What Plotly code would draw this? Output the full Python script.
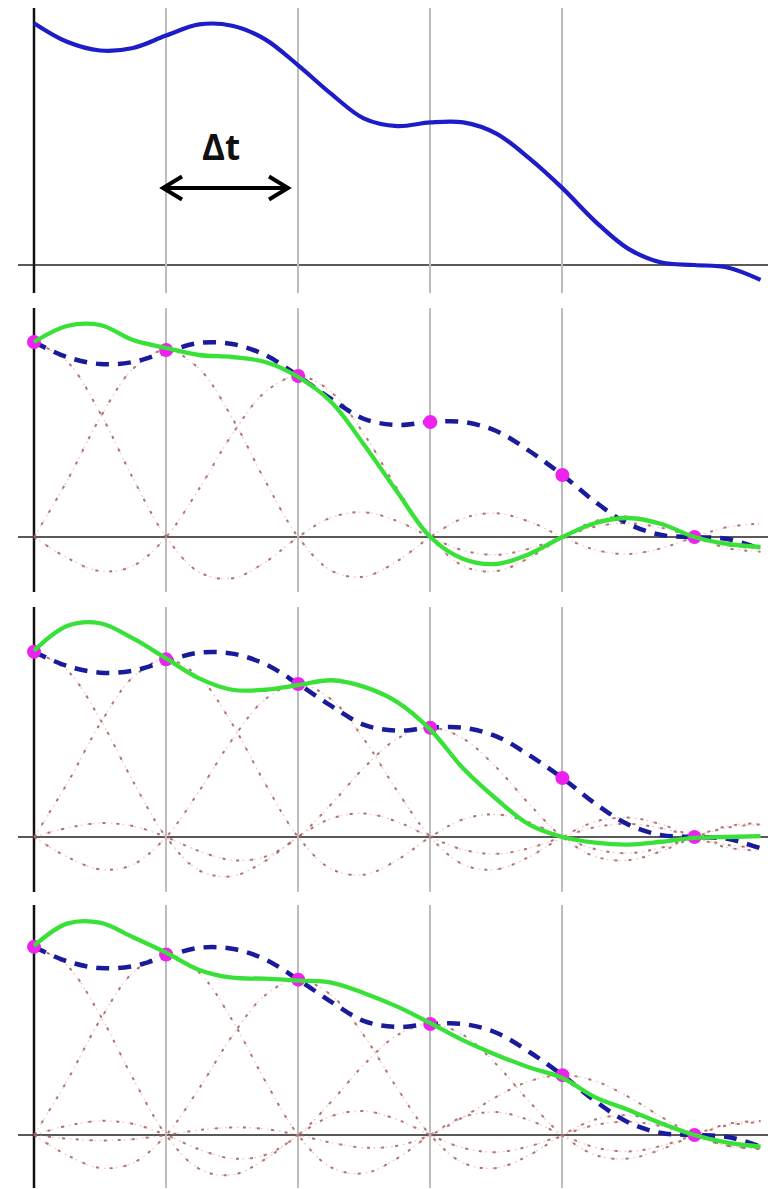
import plotly.graph_objects as go

# ---------------- data ----------------
# time in units of the sampling interval Δt
T = [0, 0.25, 0.5, 0.75, 1, 1.25, 1.5, 1.75, 2, 2.25, 2.5, 2.75,
     3, 3.25, 3.5, 3.75, 4, 4.25, 4.5, 4.75, 5, 5.25, 5.5]

# original (band-limited) signal
signal = [1.95, 1.80, 1.73, 1.75, 1.85, 1.94, 1.93, 1.82, 1.61, 1.38, 1.18, 1.12,
          1.15, 1.15, 1.06, 0.86, 0.62, 0.35, 0.13, 0.02, 0.00, -0.02, -0.12]

# samples taken every Δt
sample_t = [0, 1, 2, 3, 4, 5]
sample_v = [1.95, 1.87, 1.61, 1.15, 0.62, 0.00]

# interpolation kernel profile (value at offsets 0, 0.25, 0.5 ... 5.5 Δt)
kernel = [1.0, 0.90, 0.637, 0.300, 0.0, -0.180, -0.212, -0.129, 0.0, 0.100, 0.127, 0.082,
          0.0, -0.069, -0.091, -0.060, 0.0, 0.053, 0.071, 0.047, 0.0, -0.043, -0.058]

# reconstructions using the first 3, 4 and 5 samples
recon_3 = [1.95, 2.11, 2.12, 1.97, 1.89, 1.82, 1.80, 1.75, 1.60, 1.35, 0.92, 0.45,
           0.00, -0.22, -0.27, -0.17, 0.00, 0.14, 0.19, 0.13, 0.00, -0.07, -0.10]
recon_4 = [1.96, 2.22, 2.25, 2.09, 1.88, 1.67, 1.55, 1.55, 1.60, 1.65, 1.58, 1.42,
           1.13, 0.72, 0.40, 0.13, 0.00, -0.06, -0.08, -0.05, -0.01, 0.00, 0.01]
recon_5 = [1.96, 2.19, 2.20, 2.05, 1.89, 1.71, 1.63, 1.62, 1.60, 1.58, 1.47, 1.33,
           1.16, 0.98, 0.83, 0.70, 0.59, 0.39, 0.26, 0.12, 0.00, -0.08, -0.12]

panels_used = [3, 4, 5]          # samples summed in panels 2, 3, 4
recons = [recon_3, recon_4, recon_5]

# ---------------- layout geometry (pixels) ----------------
W, H = 768, 1189
X0, DX = 34.0, 132.1             # pixel of t=0, pixels per Δt
# (top, baseline, bottom, pixels per unit)
panel_px = [(8, 265, 293, 124.0),
            (308, 537, 592, 100.0),
            (607, 837, 892, 95.0),
            (905, 1135, 1188, 96.5)]

t_min = (0 - X0) / DX
t_max = (W - X0) / DX

BLUE = "#1c1cc8"
DBLUE = "#1a1a9c"
GREEN = "#38e038"
MAG = "#ee22ee"
RED_DOT = "rgba(160,95,95,0.85)"
RED_PALE = "rgba(235,150,150,0.5)"

fig = go.Figure()
layout = dict(width=W, height=H, margin=dict(l=0, r=0, t=0, b=0),
              paper_bgcolor="white", plot_bgcolor="white", showlegend=False)
shapes = []

for n, (top, base, bot, scale) in enumerate(panel_px, start=1):
    sfx = "" if n == 1 else str(n)
    xa, ya = "x" + sfx, "y" + sfx
    layout["xaxis" + sfx] = dict(domain=[0, 1], range=[t_min, t_max], anchor=ya,
                                 tickmode="array", tickvals=[1, 2, 3, 4],
                                 showgrid=True, gridcolor="#bdbdbd", gridwidth=1.5,
                                 zeroline=False, showticklabels=False, ticks="",
                                 showline=False, fixedrange=True,
                                 matches=None if n == 1 else "x")
    layout["yaxis" + sfx] = dict(domain=[1 - bot / H, 1 - top / H],
                                 range=[-(bot - base) / scale, (base - top) / scale],
                                 anchor=xa, showgrid=False, zeroline=False,
                                 showticklabels=False, ticks="", showline=False,
                                 fixedrange=True)
    # vertical axis at t = 0
    shapes.append(dict(type="line", xref=xa, yref=ya + " domain", x0=0, x1=0, y0=0, y1=1,
                       line=dict(color="#111111", width=2.5), layer="below"))
    # horizontal baseline
    shapes.append(dict(type="line", xref=xa, yref=ya, x0=(18 - X0) / DX, x1=t_max, y0=0, y1=0,
                       line=dict(color="#222222", width=1.6), layer="below"))

    if n == 1:
        fig.add_trace(go.Scatter(x=T, y=signal, mode="lines", xaxis=xa, yaxis=ya,
                                 line=dict(color=BLUE, width=4.2, shape="spline")))
        continue

    k_used = panels_used[n - 2]
    # individual kernels
    for k in range(k_used):
        if sample_v[k] == 0:
            continue
        vals = [sample_v[k] * kernel[abs(j - 4 * sample_t[k])] for j in range(len(T))]
        fig.add_trace(go.Scatter(x=T, y=vals, mode="lines", xaxis=xa, yaxis=ya,
                                 line=dict(color=RED_PALE, width=1.2, dash="2px,4px",
                                           shape="spline")))
        fig.add_trace(go.Scatter(x=T, y=vals, mode="lines", xaxis=xa, yaxis=ya,
                                 line=dict(color=RED_DOT, width=2, dash="3px,11px",
                                           shape="spline")))
    # original signal dashed
    fig.add_trace(go.Scatter(x=T, y=signal, mode="lines", xaxis=xa, yaxis=ya,
                             line=dict(color=DBLUE, width=4.5, dash="13px,9px", shape="spline")))
    # samples
    fig.add_trace(go.Scatter(x=sample_t, y=sample_v, mode="markers", xaxis=xa, yaxis=ya,
                             marker=dict(color=MAG, size=14, line=dict(width=0))))
    # reconstruction
    fig.add_trace(go.Scatter(x=T, y=recons[n - 2], mode="lines", xaxis=xa, yaxis=ya,
                             line=dict(color=GREEN, width=4.3, shape="spline")))

# Δt double arrow in panel 1
ay = (265 - 188) / 124.0
ax0 = (163 - X0) / DX
ax1 = (288 - X0) / DX
adx = 19 / DX
ady = 11.5 / 124.0
shapes.append(dict(type="line", xref="x", yref="y", x0=ax0 + 0.01, x1=ax1 - 0.01, y0=ay, y1=ay,
                   line=dict(color="black", width=4)))
shapes.append(dict(type="path", xref="x", yref="y",
                   path=f"M {ax0+adx},{ay+ady} L {ax0},{ay} L {ax0+adx},{ay-ady}",
                   line=dict(color="black", width=4)))
shapes.append(dict(type="path", xref="x", yref="y",
                   path=f"M {ax1-adx},{ay+ady} L {ax1},{ay} L {ax1-adx},{ay-ady}",
                   line=dict(color="black", width=4)))

layout["shapes"] = shapes
layout["annotations"] = [dict(text="<b>Δt</b>", xref="x", yref="y",
                              x=(221 - X0) / DX, y=(265 - 146) / 124.0,
                              xanchor="center", yanchor="middle", showarrow=False,
                              font=dict(family="Open Sans", size=35, color="#111111"))]
fig.update_layout(**layout)

fig.write_html("out.html", config={"displayModeBar": False},
               post_script="document.body.style.margin='0';document.body.style.overflow='hidden';")
